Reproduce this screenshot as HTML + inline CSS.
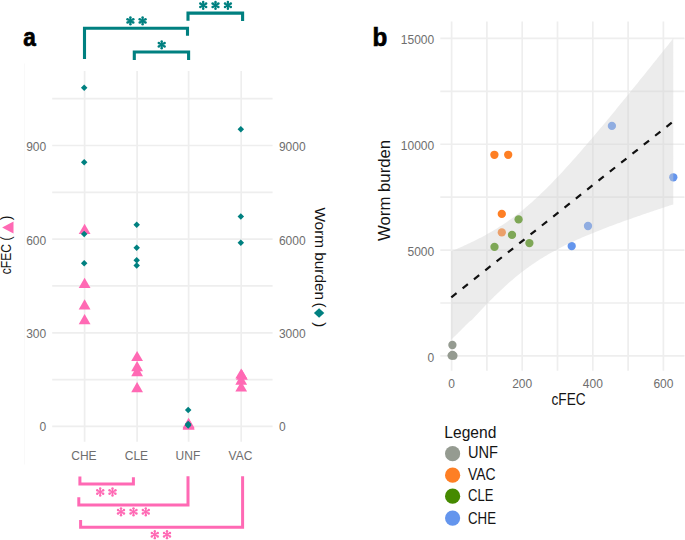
<!DOCTYPE html>
<html><head><meta charset="utf-8"><style>
html,body{margin:0;padding:0;background:#fff;}
svg{display:block;}
text{font-family:"Liberation Sans",sans-serif;}
.tk{font-size:12px;fill:#6e6e6e;}
.ttl{fill:#141414;}
.lab{font-size:26px;font-weight:bold;fill:#000;stroke:#000;stroke-width:0.7px;}
</style></head><body>
<svg width="685" height="540" viewBox="0 0 685 540">
<rect width="685" height="540" fill="#fff"/>
<line x1="24.5" y1="63.5" x2="24.5" y2="464.5" stroke="#f9f9f9" stroke-width="1"/>
<line x1="52.2" y1="98.7" x2="272.6" y2="98.7" stroke="#eeeeee" stroke-width="1.7"/>
<line x1="52.2" y1="145.5" x2="272.6" y2="145.5" stroke="#eeeeee" stroke-width="1.7"/>
<line x1="52.2" y1="192.3" x2="272.6" y2="192.3" stroke="#eeeeee" stroke-width="1.7"/>
<line x1="52.2" y1="239.15" x2="272.6" y2="239.15" stroke="#eeeeee" stroke-width="1.7"/>
<line x1="52.2" y1="285.95" x2="272.6" y2="285.95" stroke="#eeeeee" stroke-width="1.7"/>
<line x1="52.2" y1="332.8" x2="272.6" y2="332.8" stroke="#eeeeee" stroke-width="1.7"/>
<line x1="52.2" y1="379.6" x2="272.6" y2="379.6" stroke="#eeeeee" stroke-width="1.7"/>
<line x1="52.2" y1="426.4" x2="272.6" y2="426.4" stroke="#eeeeee" stroke-width="1.7"/>
<line x1="84.6" y1="71" x2="84.6" y2="441.7" stroke="#eeeeee" stroke-width="1.7"/>
<line x1="137.1" y1="71" x2="137.1" y2="441.7" stroke="#eeeeee" stroke-width="1.7"/>
<line x1="188.6" y1="71" x2="188.6" y2="441.7" stroke="#eeeeee" stroke-width="1.7"/>
<line x1="241.2" y1="71" x2="241.2" y2="441.7" stroke="#eeeeee" stroke-width="1.7"/>
<text x="46.2" y="150.9" text-anchor="end" class="tk">900</text>
<text x="46.2" y="244.6" text-anchor="end" class="tk">600</text>
<text x="46.2" y="338.3" text-anchor="end" class="tk">300</text>
<text x="46.2" y="431.1" text-anchor="end" class="tk">0</text>
<text x="278.9" y="150.9" class="tk">9000</text>
<text x="278.9" y="244.6" class="tk">6000</text>
<text x="278.9" y="338.3" class="tk">3000</text>
<text x="278.9" y="431.1" class="tk">0</text>
<text x="83.9" y="460" text-anchor="middle" class="tk">CHE</text>
<text x="136.4" y="460" text-anchor="middle" class="tk">CLE</text>
<text x="187.9" y="460" text-anchor="middle" class="tk">UNF</text>
<text x="240.5" y="460" text-anchor="middle" class="tk">VAC</text>
<path d="M84.60 223.80L90.49 234.00L78.71 234.00Z" fill="#ff69b4"/>
<path d="M84.60 277.80L90.49 288.00L78.71 288.00Z" fill="#ff69b4"/>
<path d="M84.60 299.30L90.49 309.50L78.71 309.50Z" fill="#ff69b4"/>
<path d="M84.60 314.00L90.49 324.20L78.71 324.20Z" fill="#ff69b4"/>
<path d="M137.10 350.90L142.99 361.10L131.21 361.10Z" fill="#ff69b4"/>
<path d="M137.10 361.10L142.99 371.30L131.21 371.30Z" fill="#ff69b4"/>
<path d="M137.10 366.10L142.99 376.30L131.21 376.30Z" fill="#ff69b4"/>
<path d="M137.10 382.00L142.99 392.20L131.21 392.20Z" fill="#ff69b4"/>
<path d="M188.60 417.80L194.49 428.00L182.71 428.00Z" fill="#ff69b4"/>
<path d="M188.60 418.60L194.49 428.80L182.71 428.80Z" fill="#ff69b4"/>
<path d="M188.60 419.30L194.49 429.50L182.71 429.50Z" fill="#ff69b4"/>
<path d="M188.60 419.30L194.49 429.50L182.71 429.50Z" fill="#ff69b4"/>
<path d="M241.20 368.40L247.09 378.60L235.31 378.60Z" fill="#ff69b4"/>
<path d="M241.20 374.50L247.09 384.70L235.31 384.70Z" fill="#ff69b4"/>
<path d="M241.20 381.40L247.09 391.60L235.31 391.60Z" fill="#ff69b4"/>
<path d="M241.90 369.50L247.79 379.70L236.01 379.70Z" fill="#ff69b4"/>
<path d="M84.20 84.45L87.45 87.70L84.20 90.95L80.95 87.70Z" fill="#008080"/>
<path d="M84.20 159.05L87.45 162.30L84.20 165.55L80.95 162.30Z" fill="#008080"/>
<path d="M84.20 230.75L87.45 234.00L84.20 237.25L80.95 234.00Z" fill="#008080"/>
<path d="M84.20 260.05L87.45 263.30L84.20 266.55L80.95 263.30Z" fill="#008080"/>
<path d="M136.70 221.45L139.95 224.70L136.70 227.95L133.45 224.70Z" fill="#008080"/>
<path d="M136.70 244.55L139.95 247.80L136.70 251.05L133.45 247.80Z" fill="#008080"/>
<path d="M136.70 257.05L139.95 260.30L136.70 263.55L133.45 260.30Z" fill="#008080"/>
<path d="M136.70 262.35L139.95 265.60L136.70 268.85L133.45 265.60Z" fill="#008080"/>
<path d="M188.20 406.65L191.45 409.90L188.20 413.15L184.95 409.90Z" fill="#008080"/>
<path d="M188.20 420.75L191.45 424.00L188.20 427.25L184.95 424.00Z" fill="#008080"/>
<path d="M188.20 421.55L191.45 424.80L188.20 428.05L184.95 424.80Z" fill="#008080"/>
<path d="M188.20 422.35L191.45 425.60L188.20 428.85L184.95 425.60Z" fill="#008080"/>
<path d="M240.80 125.95L244.05 129.20L240.80 132.45L237.55 129.20Z" fill="#008080"/>
<path d="M240.80 213.15L244.05 216.40L240.80 219.65L237.55 216.40Z" fill="#008080"/>
<path d="M240.80 239.55L244.05 242.80L240.80 246.05L237.55 242.80Z" fill="#008080"/>
<path d="M84.5 58.9V28.3H187.5V35.7" stroke="#008080" stroke-width="3.1" fill="none"/>
<path d="M188 20.8V13.1H242.6V20.9" stroke="#008080" stroke-width="3.1" fill="none"/>
<path d="M134.3 60V52H188.6V60" stroke="#008080" stroke-width="3.1" fill="none"/>
<path d="M203.20 8.65L203.20 1.95M200.30 6.97L206.10 3.62M200.30 3.62L206.10 6.97" stroke="#008080" stroke-width="1.90" fill="none"/><circle cx="203.20" cy="8.65" r="1.25" fill="#008080"/><circle cx="203.20" cy="1.95" r="1.25" fill="#008080"/><circle cx="200.30" cy="6.97" r="1.25" fill="#008080"/><circle cx="206.10" cy="3.62" r="1.25" fill="#008080"/><circle cx="200.30" cy="3.62" r="1.25" fill="#008080"/><circle cx="206.10" cy="6.97" r="1.25" fill="#008080"/>
<path d="M215.50 8.65L215.50 1.95M212.60 6.97L218.40 3.62M212.60 3.62L218.40 6.97" stroke="#008080" stroke-width="1.90" fill="none"/><circle cx="215.50" cy="8.65" r="1.25" fill="#008080"/><circle cx="215.50" cy="1.95" r="1.25" fill="#008080"/><circle cx="212.60" cy="6.97" r="1.25" fill="#008080"/><circle cx="218.40" cy="3.62" r="1.25" fill="#008080"/><circle cx="212.60" cy="3.62" r="1.25" fill="#008080"/><circle cx="218.40" cy="6.97" r="1.25" fill="#008080"/>
<path d="M227.90 8.65L227.90 1.95M225.00 6.97L230.80 3.62M225.00 3.62L230.80 6.97" stroke="#008080" stroke-width="1.90" fill="none"/><circle cx="227.90" cy="8.65" r="1.25" fill="#008080"/><circle cx="227.90" cy="1.95" r="1.25" fill="#008080"/><circle cx="225.00" cy="6.97" r="1.25" fill="#008080"/><circle cx="230.80" cy="3.62" r="1.25" fill="#008080"/><circle cx="225.00" cy="3.62" r="1.25" fill="#008080"/><circle cx="230.80" cy="6.97" r="1.25" fill="#008080"/>
<path d="M130.40 24.25L130.40 17.55M127.50 22.57L133.30 19.22M127.50 19.22L133.30 22.57" stroke="#008080" stroke-width="1.90" fill="none"/><circle cx="130.40" cy="24.25" r="1.25" fill="#008080"/><circle cx="130.40" cy="17.55" r="1.25" fill="#008080"/><circle cx="127.50" cy="22.57" r="1.25" fill="#008080"/><circle cx="133.30" cy="19.22" r="1.25" fill="#008080"/><circle cx="127.50" cy="19.22" r="1.25" fill="#008080"/><circle cx="133.30" cy="22.57" r="1.25" fill="#008080"/>
<path d="M142.60 24.25L142.60 17.55M139.70 22.57L145.50 19.22M139.70 19.22L145.50 22.57" stroke="#008080" stroke-width="1.90" fill="none"/><circle cx="142.60" cy="24.25" r="1.25" fill="#008080"/><circle cx="142.60" cy="17.55" r="1.25" fill="#008080"/><circle cx="139.70" cy="22.57" r="1.25" fill="#008080"/><circle cx="145.50" cy="19.22" r="1.25" fill="#008080"/><circle cx="139.70" cy="19.22" r="1.25" fill="#008080"/><circle cx="145.50" cy="22.57" r="1.25" fill="#008080"/>
<path d="M161.70 48.15L161.70 41.45M158.80 46.47L164.60 43.12M158.80 43.12L164.60 46.47" stroke="#008080" stroke-width="1.90" fill="none"/><circle cx="161.70" cy="48.15" r="1.25" fill="#008080"/><circle cx="161.70" cy="41.45" r="1.25" fill="#008080"/><circle cx="158.80" cy="46.47" r="1.25" fill="#008080"/><circle cx="164.60" cy="43.12" r="1.25" fill="#008080"/><circle cx="158.80" cy="43.12" r="1.25" fill="#008080"/><circle cx="164.60" cy="46.47" r="1.25" fill="#008080"/>
<path d="M79.9 476.4V484H133.4V477.2" stroke="#ff69b4" stroke-width="3" fill="none"/>
<path d="M78.8 497.2V504.9H188V476.2" stroke="#ff69b4" stroke-width="3" fill="none"/>
<path d="M80.6 519.9V527.3H242.6V476.2" stroke="#ff69b4" stroke-width="3" fill="none"/>
<path d="M100.20 495.45L100.20 488.55M97.21 493.73L103.19 490.27M97.21 490.27L103.19 493.73" stroke="#ff69b4" stroke-width="1.45" fill="none"/><circle cx="100.20" cy="495.45" r="1.2" fill="#ff69b4"/><circle cx="100.20" cy="488.55" r="1.2" fill="#ff69b4"/><circle cx="97.21" cy="493.73" r="1.2" fill="#ff69b4"/><circle cx="103.19" cy="490.27" r="1.2" fill="#ff69b4"/><circle cx="97.21" cy="490.27" r="1.2" fill="#ff69b4"/><circle cx="103.19" cy="493.73" r="1.2" fill="#ff69b4"/>
<path d="M112.50 495.45L112.50 488.55M109.51 493.73L115.49 490.27M109.51 490.27L115.49 493.73" stroke="#ff69b4" stroke-width="1.45" fill="none"/><circle cx="112.50" cy="495.45" r="1.2" fill="#ff69b4"/><circle cx="112.50" cy="488.55" r="1.2" fill="#ff69b4"/><circle cx="109.51" cy="493.73" r="1.2" fill="#ff69b4"/><circle cx="115.49" cy="490.27" r="1.2" fill="#ff69b4"/><circle cx="109.51" cy="490.27" r="1.2" fill="#ff69b4"/><circle cx="115.49" cy="493.73" r="1.2" fill="#ff69b4"/>
<path d="M121.00 515.25L121.00 508.35M118.01 513.52L123.99 510.07M118.01 510.07L123.99 513.52" stroke="#ff69b4" stroke-width="1.45" fill="none"/><circle cx="121.00" cy="515.25" r="1.2" fill="#ff69b4"/><circle cx="121.00" cy="508.35" r="1.2" fill="#ff69b4"/><circle cx="118.01" cy="513.52" r="1.2" fill="#ff69b4"/><circle cx="123.99" cy="510.07" r="1.2" fill="#ff69b4"/><circle cx="118.01" cy="510.07" r="1.2" fill="#ff69b4"/><circle cx="123.99" cy="513.52" r="1.2" fill="#ff69b4"/>
<path d="M133.50 515.25L133.50 508.35M130.51 513.52L136.49 510.07M130.51 510.07L136.49 513.52" stroke="#ff69b4" stroke-width="1.45" fill="none"/><circle cx="133.50" cy="515.25" r="1.2" fill="#ff69b4"/><circle cx="133.50" cy="508.35" r="1.2" fill="#ff69b4"/><circle cx="130.51" cy="513.52" r="1.2" fill="#ff69b4"/><circle cx="136.49" cy="510.07" r="1.2" fill="#ff69b4"/><circle cx="130.51" cy="510.07" r="1.2" fill="#ff69b4"/><circle cx="136.49" cy="513.52" r="1.2" fill="#ff69b4"/>
<path d="M145.80 515.25L145.80 508.35M142.81 513.52L148.79 510.07M142.81 510.07L148.79 513.52" stroke="#ff69b4" stroke-width="1.45" fill="none"/><circle cx="145.80" cy="515.25" r="1.2" fill="#ff69b4"/><circle cx="145.80" cy="508.35" r="1.2" fill="#ff69b4"/><circle cx="142.81" cy="513.52" r="1.2" fill="#ff69b4"/><circle cx="148.79" cy="510.07" r="1.2" fill="#ff69b4"/><circle cx="142.81" cy="510.07" r="1.2" fill="#ff69b4"/><circle cx="148.79" cy="513.52" r="1.2" fill="#ff69b4"/>
<path d="M154.80 538.15L154.80 531.25M151.81 536.43L157.79 532.98M151.81 532.98L157.79 536.43" stroke="#ff69b4" stroke-width="1.45" fill="none"/><circle cx="154.80" cy="538.15" r="1.2" fill="#ff69b4"/><circle cx="154.80" cy="531.25" r="1.2" fill="#ff69b4"/><circle cx="151.81" cy="536.43" r="1.2" fill="#ff69b4"/><circle cx="157.79" cy="532.98" r="1.2" fill="#ff69b4"/><circle cx="151.81" cy="532.98" r="1.2" fill="#ff69b4"/><circle cx="157.79" cy="536.43" r="1.2" fill="#ff69b4"/>
<path d="M167.00 538.15L167.00 531.25M164.01 536.43L169.99 532.98M164.01 532.98L169.99 536.43" stroke="#ff69b4" stroke-width="1.45" fill="none"/><circle cx="167.00" cy="538.15" r="1.2" fill="#ff69b4"/><circle cx="167.00" cy="531.25" r="1.2" fill="#ff69b4"/><circle cx="164.01" cy="536.43" r="1.2" fill="#ff69b4"/><circle cx="169.99" cy="532.98" r="1.2" fill="#ff69b4"/><circle cx="164.01" cy="532.98" r="1.2" fill="#ff69b4"/><circle cx="169.99" cy="536.43" r="1.2" fill="#ff69b4"/>
<text x="23.2" y="45.7" class="lab" transform="translate(23.2 45.7) scale(0.87 1) translate(-23.2 -45.7)">a</text>
<g transform="translate(11.2 274.2) rotate(-90)"><text x="0" y="0" class="ttl" transform="scale(0.846 1)" style="font-size:14.3px">cFEC (</text></g>
<path d="M2.1 227.4L13.5 221.4L13.5 233.4Z" fill="#ff69b4"/>
<g transform="translate(11.2 220.2) rotate(-90)"><text x="0" y="0" class="ttl" style="font-size:14.3px">)</text></g>
<g transform="translate(315.2 207.4) rotate(90)"><text x="0" y="0" class="ttl" style="font-size:15.35px">Worm burden</text></g>
<g transform="translate(315.2 302.4) rotate(90)"><text x="0" y="0" class="ttl" style="font-size:15.35px">(</text></g>
<path d="M313.9 313L319.1 308.3L324.3 313L319.1 317.7Z" fill="#008080"/>
<g transform="translate(315.2 322.3) rotate(90)"><text x="0" y="0" class="ttl" style="font-size:15px">)</text></g>
<line x1="440.3" y1="355.90" x2="684.5" y2="355.90" stroke="#eeeeee" stroke-width="1.7"/>
<line x1="440.3" y1="302.98" x2="684.5" y2="302.98" stroke="#eeeeee" stroke-width="1.7"/>
<line x1="440.3" y1="250.07" x2="684.5" y2="250.07" stroke="#eeeeee" stroke-width="1.7"/>
<line x1="440.3" y1="197.15" x2="684.5" y2="197.15" stroke="#eeeeee" stroke-width="1.7"/>
<line x1="440.3" y1="144.23" x2="684.5" y2="144.23" stroke="#eeeeee" stroke-width="1.7"/>
<line x1="440.3" y1="91.32" x2="684.5" y2="91.32" stroke="#eeeeee" stroke-width="1.7"/>
<line x1="440.3" y1="38.40" x2="684.5" y2="38.40" stroke="#eeeeee" stroke-width="1.7"/>
<line x1="451.60" y1="21.6" x2="451.60" y2="370.7" stroke="#eeeeee" stroke-width="1.7"/>
<line x1="486.90" y1="21.6" x2="486.90" y2="370.7" stroke="#eeeeee" stroke-width="1.7"/>
<line x1="522.20" y1="21.6" x2="522.20" y2="370.7" stroke="#eeeeee" stroke-width="1.7"/>
<line x1="557.50" y1="21.6" x2="557.50" y2="370.7" stroke="#eeeeee" stroke-width="1.7"/>
<line x1="592.80" y1="21.6" x2="592.80" y2="370.7" stroke="#eeeeee" stroke-width="1.7"/>
<line x1="628.10" y1="21.6" x2="628.10" y2="370.7" stroke="#eeeeee" stroke-width="1.7"/>
<line x1="663.40" y1="21.6" x2="663.40" y2="370.7" stroke="#eeeeee" stroke-width="1.7"/>
<text x="434.2" y="44.30" text-anchor="end" class="tk">15000</text>
<text x="434.2" y="150.13" text-anchor="end" class="tk">10000</text>
<text x="434.2" y="255.97" text-anchor="end" class="tk">5000</text>
<text x="434.2" y="361.80" text-anchor="end" class="tk">0</text>
<text x="451.60" y="387.8" text-anchor="middle" class="tk">0</text>
<text x="522.20" y="387.8" text-anchor="middle" class="tk">200</text>
<text x="592.80" y="387.8" text-anchor="middle" class="tk">400</text>
<text x="663.40" y="387.8" text-anchor="middle" class="tk">600</text>
<circle cx="452.40" cy="345.00" r="4.15" fill="#959b91"/>
<circle cx="451.60" cy="355.60" r="4.15" fill="#959b91"/>
<circle cx="452.50" cy="355.00" r="4.15" fill="#959b91"/>
<circle cx="453.40" cy="355.70" r="4.15" fill="#959b91"/>
<circle cx="494.40" cy="154.80" r="4.15" fill="#fe7f24"/>
<circle cx="508.20" cy="154.80" r="4.15" fill="#fe7f24"/>
<circle cx="501.80" cy="213.90" r="4.15" fill="#fe7f24"/>
<circle cx="501.80" cy="232.40" r="4.15" fill="#fe7f24"/>
<circle cx="518.60" cy="219.40" r="4.15" fill="#458a00"/>
<circle cx="512.00" cy="234.90" r="4.15" fill="#458a00"/>
<circle cx="529.40" cy="243.10" r="4.15" fill="#458a00"/>
<circle cx="494.50" cy="246.90" r="4.15" fill="#458a00"/>
<circle cx="611.90" cy="125.90" r="4.15" fill="#6495ed"/>
<circle cx="673.30" cy="177.30" r="4.15" fill="#6495ed"/>
<circle cx="588.00" cy="226.00" r="4.15" fill="#6495ed"/>
<circle cx="571.70" cy="246.10" r="4.15" fill="#6495ed"/>
<polygon points="451.30,251.29 453.17,250.51 455.03,249.71 456.90,248.91 458.76,248.10 460.63,247.27 462.49,246.44 464.36,245.59 466.22,244.74 468.09,243.87 469.95,242.99 471.82,242.09 473.68,241.18 475.55,240.26 477.42,239.32 479.28,238.37 481.15,237.40 483.01,236.41 484.88,235.40 486.74,234.37 488.61,233.33 490.47,232.26 492.34,231.18 494.20,230.07 496.07,228.94 497.94,227.79 499.80,226.61 501.67,225.41 503.53,224.18 505.40,222.92 507.26,221.64 509.13,220.34 510.99,219.00 512.86,217.64 514.72,216.25 516.59,214.83 518.45,213.39 520.32,211.91 522.19,210.41 524.05,208.88 525.92,207.32 527.78,205.73 529.65,204.11 531.51,202.47 533.38,200.80 535.24,199.10 537.11,197.38 538.97,195.63 540.84,193.85 542.71,192.06 544.57,190.24 546.44,188.39 548.30,186.53 550.17,184.64 552.03,182.73 553.90,180.81 555.76,178.86 557.63,176.90 559.49,174.91 561.36,172.92 563.22,170.90 565.09,168.87 566.96,166.83 568.82,164.77 570.69,162.70 572.55,160.61 574.42,158.51 576.28,156.40 578.15,154.28 580.01,152.15 581.88,150.01 583.74,147.86 585.61,145.70 587.48,143.53 589.34,141.35 591.21,139.16 593.07,136.97 594.94,134.76 596.80,132.56 598.67,130.34 600.53,128.12 602.40,125.89 604.26,123.65 606.13,121.41 607.99,119.17 609.86,116.92 611.73,114.66 613.59,112.40 615.46,110.13 617.32,107.86 619.19,105.59 621.05,103.31 622.92,101.03 624.78,98.74 626.65,96.45 628.51,94.16 630.38,91.86 632.24,89.56 634.11,87.26 635.98,84.95 637.84,82.64 639.71,80.33 641.57,78.02 643.44,75.70 645.30,73.38 647.17,71.06 649.03,68.73 650.90,66.41 652.76,64.08 654.63,61.75 656.50,59.41 658.36,57.08 660.23,54.74 662.09,52.40 663.96,50.06 665.82,47.72 667.69,45.38 669.55,43.03 671.42,40.69 673.28,38.34 673.28,204.39 671.42,205.00 669.55,205.61 667.69,206.22 665.82,206.83 663.96,207.45 662.09,208.07 660.23,208.68 658.36,209.31 656.50,209.93 654.63,210.55 652.76,211.18 650.90,211.81 649.03,212.44 647.17,213.07 645.30,213.71 643.44,214.34 641.57,214.98 639.71,215.63 637.84,216.27 635.98,216.92 634.11,217.57 632.24,218.23 630.38,218.88 628.51,219.54 626.65,220.21 624.78,220.87 622.92,221.55 621.05,222.22 619.19,222.90 617.32,223.58 615.46,224.27 613.59,224.96 611.73,225.66 609.86,226.36 607.99,227.06 606.13,227.77 604.26,228.49 602.40,229.21 600.53,229.94 598.67,230.68 596.80,231.42 594.94,232.17 593.07,232.92 591.21,233.68 589.34,234.45 587.48,235.23 585.61,236.02 583.74,236.82 581.88,237.62 580.01,238.44 578.15,239.26 576.28,240.10 574.42,240.95 572.55,241.81 570.69,242.68 568.82,243.56 566.96,244.46 565.09,245.37 563.22,246.30 561.36,247.24 559.49,248.20 557.63,249.18 555.76,250.17 553.90,251.18 552.03,252.21 550.17,253.26 548.30,254.33 546.44,255.42 544.57,256.54 542.71,257.67 540.84,258.83 538.97,260.02 537.11,261.23 535.24,262.46 533.38,263.72 531.51,265.01 529.65,266.32 527.78,267.66 525.92,269.03 524.05,270.43 522.19,271.85 520.32,273.30 518.45,274.79 516.59,276.30 514.72,277.84 512.86,279.40 510.99,281.00 509.13,282.62 507.26,284.27 505.40,285.95 503.53,287.65 501.67,289.38 499.80,291.14 497.94,292.92 496.07,294.72 494.20,296.55 492.34,298.40 490.47,300.27 488.61,302.16 486.74,304.07 484.88,306.00 483.01,307.96 481.15,309.92 479.28,311.91 477.42,313.91 475.55,315.93 473.68,317.96 471.82,320.01 469.95,321.15 468.09,323.01 466.22,324.86 464.36,326.72 462.49,328.57 460.63,330.43 458.76,332.28 456.90,334.14 455.03,335.99 453.17,337.85 451.30,339.70" fill="#d1d1d1" fill-opacity="0.41"/>
<line x1="451.30" y1="297.32" x2="673.28" y2="121.36" stroke="#111" stroke-width="2.2" stroke-dasharray="6.7 7.75"/>
<g transform="translate(390 241.0) rotate(-90)"><text x="0" y="0" class="ttl" style="font-size:16.75px">Worm burden</text></g>
<text x="0" y="0" class="ttl" style="font-size:15.6px" transform="translate(551.5 405.0) scale(0.875 1)">cFEC</text>
<text x="372.6" y="45.7" class="lab" transform="translate(372.6 45.7) scale(0.93 1) translate(-372.6 -45.7)">b</text>
<text x="0" y="0" class="ttl" style="font-size:15.6px" transform="translate(444.3 437.5) scale(1.0 1)">Legend</text>
<circle cx="452.6" cy="453.7" r="7.6" fill="#959b91"/>
<text x="0" y="0" class="ttl" style="font-size:15.8px" transform="translate(468.0 457.9) scale(0.925 1)">UNF</text>
<circle cx="452.6" cy="475.2" r="7.6" fill="#fe7f24"/>
<text x="0" y="0" class="ttl" style="font-size:15.8px" transform="translate(468.0 480.4) scale(0.883 1)">VAC</text>
<circle cx="452.6" cy="496.2" r="7.6" fill="#458a00"/>
<text x="0" y="0" class="ttl" style="font-size:15.8px" transform="translate(468.0 501.4) scale(0.826 1)">CLE</text>
<circle cx="452.6" cy="518.1" r="7.6" fill="#6495ed"/>
<text x="0" y="0" class="ttl" style="font-size:15.8px" transform="translate(468.0 523.8) scale(0.84 1)">CHE</text>
</svg></body></html>
